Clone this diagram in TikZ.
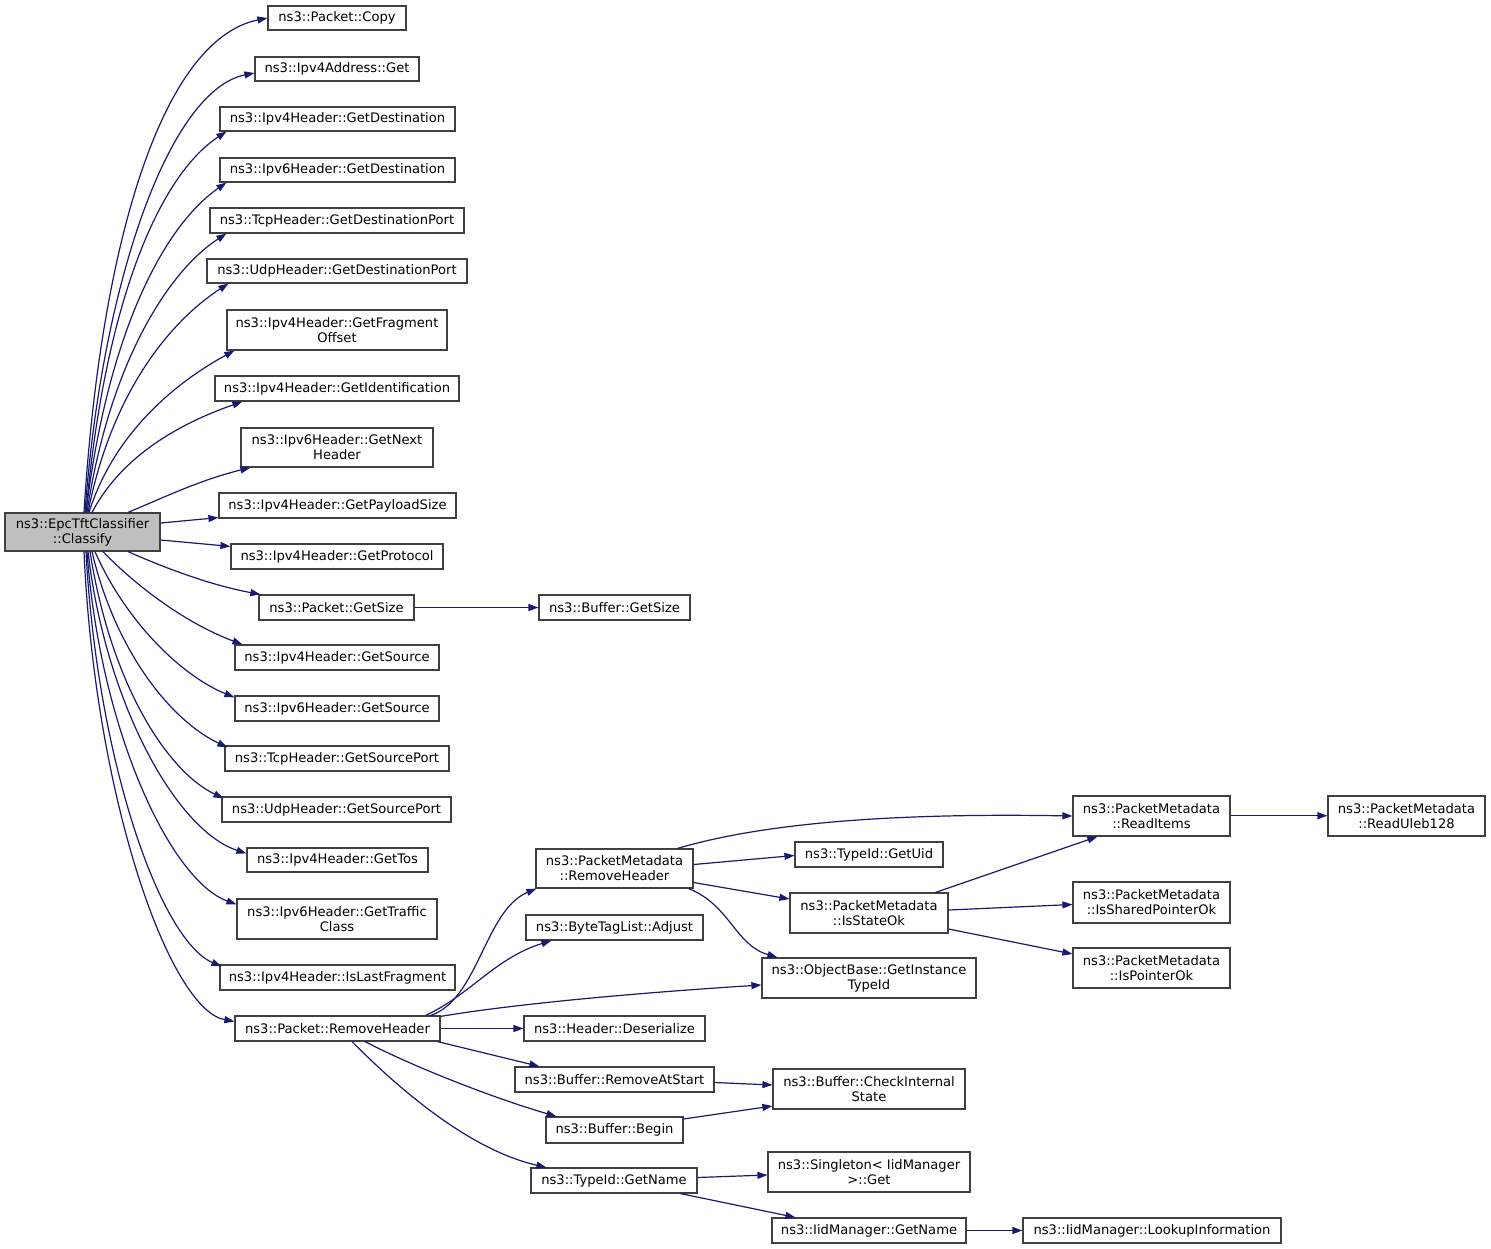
\documentclass[tikz,border=0pt]{standalone}
\usepackage{fontspec}
\setmainfont{DejaVu Sans}
\usetikzlibrary{arrows.meta}
\definecolor{edgeblue}{HTML}{191970}
\definecolor{rootgray}{HTML}{BFBFBF}
\definecolor{boxline}{HTML}{404040}
\begin{document}
\begin{tikzpicture}[x=1pt,y=-1pt,
  box/.style={draw=boxline, line width=1.2pt, fill=white, inner sep=0pt, align=center,
    font=\fontsize{13.1}{15}\selectfont},
  edge/.style={draw=edgeblue, line width=1.2pt, -{Triangle[length=10pt,width=7pt]}}]
\fill[white] (0,0) rectangle (1491,1249);
\useasboundingbox (0,0) rectangle (1491,1249);
% nodes
\node[box, fill=rootgray, minimum width=155pt, minimum height=38pt] (root) at (82.5,532) {ns3::EpcTftClassifier\\::Classify};
\node[box, minimum width=138pt, minimum height=24pt] (copy) at (337,18) {ns3::Packet::Copy};
\node[box, minimum width=164pt, minimum height=24pt] (v4addr) at (337,69) {ns3::Ipv4Address::Get};
\node[box, minimum width=235pt, minimum height=24pt] (v4dest) at (337.5,119) {ns3::Ipv4Header::GetDestination};
\node[box, minimum width=235pt, minimum height=24pt] (v6dest) at (337.5,170) {ns3::Ipv6Header::GetDestination};
\node[box, minimum width=254pt, minimum height=25pt] (tcpdest) at (337,220.5) {ns3::TcpHeader::GetDestinationPort};
\node[box, minimum width=260pt, minimum height=24pt] (udpdest) at (337,271) {ns3::UdpHeader::GetDestinationPort};
\node[box, minimum width=220pt, minimum height=40pt] (fragoff) at (337,330) {ns3::Ipv4Header::GetFragment\\Offset};
\node[box, minimum width=244pt, minimum height=25pt] (ident) at (337,388.5) {ns3::Ipv4Header::GetIdentification};
\node[box, minimum width=192pt, minimum height=39pt] (nexthdr) at (337,447.5) {ns3::Ipv6Header::GetNext\\Header};
\node[box, minimum width=237pt, minimum height=25pt] (payload) at (337.5,505.5) {ns3::Ipv4Header::GetPayloadSize};
\node[box, minimum width=212pt, minimum height=25pt] (protocol) at (337,556.5) {ns3::Ipv4Header::GetProtocol};
\node[box, minimum width=155pt, minimum height=25pt] (getsize) at (336.5,607.5) {ns3::Packet::GetSize};
\node[box, minimum width=151pt, minimum height=25pt] (bufsize) at (614.5,607.5) {ns3::Buffer::GetSize};
\node[box, minimum width=204pt, minimum height=25pt] (v4src) at (337,657.5) {ns3::Ipv4Header::GetSource};
\node[box, minimum width=204pt, minimum height=25pt] (v6src) at (337,708.5) {ns3::Ipv6Header::GetSource};
\node[box, minimum width=224pt, minimum height=25pt] (tcpsrc) at (337,758.5) {ns3::TcpHeader::GetSourcePort};
\node[box, minimum width=229pt, minimum height=25pt] (udpsrc) at (336.5,809.5) {ns3::UdpHeader::GetSourcePort};
\node[box, minimum width=181pt, minimum height=24pt] (tos) at (337.5,860) {ns3::Ipv4Header::GetTos};
\node[box, minimum width=200pt, minimum height=40pt] (traffic) at (337,919) {ns3::Ipv6Header::GetTraffic\\Class};
\node[box, minimum width=235pt, minimum height=25pt] (lastfrag) at (337.5,977.5) {ns3::Ipv4Header::IsLastFragment};
\node[box, minimum width=205pt, minimum height=25pt] (remhdr) at (337.5,1028.5) {ns3::Packet::RemoveHeader};
\node[box, minimum width=157pt, minimum height=39pt] (pmrem) at (614.5,868.5) {ns3::PacketMetadata\\::RemoveHeader};
\node[box, minimum width=177pt, minimum height=25pt] (adjust) at (614.5,927.5) {ns3::ByteTagList::Adjust};
\node[box, minimum width=181pt, minimum height=25pt] (deser) at (614.5,1028.5) {ns3::Header::Deserialize};
\node[box, minimum width=199pt, minimum height=25pt] (remstart) at (614.5,1079.5) {ns3::Buffer::RemoveAtStart};
\node[box, minimum width=137pt, minimum height=26pt] (begin) at (614.5,1130) {ns3::Buffer::Begin};
\node[box, minimum width=166pt, minimum height=25pt] (tgetname) at (614,1180.5) {ns3::TypeId::GetName};
\node[box, minimum width=148pt, minimum height=25pt] (getuid) at (869,854.5) {ns3::TypeId::GetUid};
\node[box, minimum width=158pt, minimum height=40pt] (statok) at (869,913) {ns3::PacketMetadata\\::IsStateOk};
\node[box, minimum width=214pt, minimum height=40pt] (insttype) at (869,978) {ns3::ObjectBase::GetInstance\\TypeId};
\node[box, minimum width=192pt, minimum height=40pt] (checkint) at (869,1089) {ns3::Buffer::CheckInternal\\State};
\node[box, minimum width=202pt, minimum height=40pt] (singleton) at (869,1172) {ns3::Singleton< IidManager\\>::Get};
\node[box, minimum width=194pt, minimum height=25pt] (iidname) at (869,1230.5) {ns3::IidManager::GetName};
\node[box, minimum width=157pt, minimum height=40pt] (readitems) at (1151.5,816) {ns3::PacketMetadata\\::ReadItems};
\node[box, minimum width=157pt, minimum height=41pt] (sharedok) at (1151.5,902.5) {ns3::PacketMetadata\\::IsSharedPointerOk};
\node[box, minimum width=157pt, minimum height=40pt] (ptrok) at (1151.5,968) {ns3::PacketMetadata\\::IsPointerOk};
\node[box, minimum width=157pt, minimum height=40pt] (uleb) at (1406.5,816) {ns3::PacketMetadata\\::ReadUleb128};
\node[box, minimum width=258pt, minimum height=25pt] (lookup) at (1152,1230.5) {ns3::IidManager::LookupInformation};
% root edges (upper)
\draw[edge] ([xshift=1.5pt]root.north) .. controls (100,250) and (160,40) .. (copy.west);
\draw[edge] ([xshift=2.5pt]root.north) .. controls (102,280) and (170,90) .. ([yshift=-4pt]v4addr.west);
\draw[edge] ([xshift=3.5pt]root.north) .. controls (105,300) and (160,175) .. ([xshift=7pt]v4dest.south west);
\draw[edge] ([xshift=3.5pt]root.north) .. controls (108,330) and (165,225) .. ([xshift=7pt]v6dest.south west);
\draw[edge] ([xshift=4.5pt]root.north) .. controls (110,360) and (170,270) .. ([xshift=17pt]tcpdest.south west);
\draw[edge] ([xshift=5.5pt]root.north) .. controls (112,390) and (172,320) .. ([xshift=22pt]udpdest.south west);
\draw[edge] ([xshift=6.5pt]root.north) .. controls (115,430) and (180,380) .. ([xshift=8pt]fragoff.south west);
\draw[edge] ([xshift=9.5pt]root.north) .. controls (125,450) and (190,420) .. ([xshift=28pt]ident.south west);
\draw[edge] ([xshift=45.5pt]root.north) .. controls (165,497) and (200,480) .. ([xshift=10pt]nexthdr.south west);
\draw[edge] ([yshift=9pt]root.east) -- ([yshift=1pt]payload.south west);
\draw[edge] ([yshift=-8pt]root.east) -- ([yshift=-3pt]protocol.north west);
% root edges (lower)
\draw[edge] ([xshift=45.5pt]root.south) .. controls (165,568) and (210,585) .. ([xshift=2pt]getsize.north west);
\draw[edge] ([xshift=20.5pt]root.south) .. controls (140,590) and (190,625) .. ([xshift=8pt]v4src.north west);
\draw[edge] ([xshift=12.5pt]root.south) .. controls (125,620) and (180,675) .. ([yshift=-2pt]v6src.north west);
\draw[edge] ([xshift=9.5pt]root.south) .. controls (115,650) and (170,720) .. ([xshift=3pt,yshift=-2pt]tcpsrc.north west);
\draw[edge] ([xshift=7.5pt]root.south) .. controls (110,680) and (165,770) .. ([xshift=2pt,yshift=-2pt]udpsrc.north west);
\draw[edge] ([xshift=5.5pt]root.south) .. controls (105,700) and (175,830) .. ([yshift=-6pt]tos.north west);
\draw[edge] ([xshift=4.5pt]root.south) .. controls (100,730) and (170,880) .. ([yshift=-6pt]traffic.north west);
\draw[edge] ([xshift=3.5pt]root.south) .. controls (97,760) and (160,940) .. ([xshift=2pt,yshift=-2pt]lastfrag.north west);
\draw[edge] ([xshift=1.5pt]root.south) .. controls (95,800) and (170,1010) .. ([yshift=-6pt]remhdr.north west);
% second level
\draw[edge] (getsize.east) -- (bufsize.west);
\draw[edge] ([xshift=-10pt]remhdr.north east) .. controls (478,1000) and (485,910) .. ([xshift=1pt]pmrem.south west);
\draw[edge] ([xshift=-15pt]remhdr.north east) .. controls (470,995) and (495,958) .. ([xshift=26pt]adjust.south west);
\draw[edge] ([yshift=-1pt]remhdr.north east) .. controls (520,1003) and (650,992) .. ([yshift=-7pt]insttype.west);
\draw[edge] (remhdr.east) -- (deser.west);
\draw[edge] ([xshift=-3pt]remhdr.south east) -- ([xshift=25pt]remstart.north west);
\draw[edge] ([xshift=27.5pt]remhdr.south) .. controls (420,1070) and (500,1100) .. ([xshift=11pt]begin.north west);
\draw[edge] ([xshift=14.5pt]remhdr.south) .. controls (400,1090) and (470,1150) .. ([xshift=16pt]tgetname.north west);
% third level
\draw[edge] ([xshift=-16pt]pmrem.north east) .. controls (740,830) and (850,812) .. (readitems.west);
\draw[edge] ([yshift=4pt]pmrem.east) -- ([yshift=-1pt]getuid.west);
\draw[edge] ([yshift=-14pt]pmrem.east) -- ([yshift=14pt]statok.west);
\draw[edge] ([xshift=-5pt]pmrem.south east) .. controls (730,905) and (735,945) .. ([xshift=16pt]insttype.north west);
\draw[edge] ([xshift=-13pt]statok.north east) -- ([xshift=25pt]readitems.south west);
\draw[edge] ([yshift=3pt]statok.east) -- ([yshift=-2pt]sharedok.west);
\draw[edge] ([yshift=-16pt]statok.east) -- ([yshift=14pt]ptrok.west);
\draw[edge] ([yshift=0.3pt]readitems.east) -- ([yshift=0.3pt]uleb.west);
\draw[edge] ([yshift=-3pt]remstart.east) -- ([yshift=4pt]checkint.west);
\draw[edge] ([yshift=11pt]begin.east) -- ([yshift=-17pt]checkint.west);
\draw[edge] ([yshift=3pt]tgetname.east) -- ([yshift=-3pt]singleton.west);
\draw[edge] ([xshift=-17pt]tgetname.south east) -- ([xshift=24pt]iidname.north west);
\draw[edge] (iidname.east) -- (lookup.west);
\end{tikzpicture}
\end{document}
